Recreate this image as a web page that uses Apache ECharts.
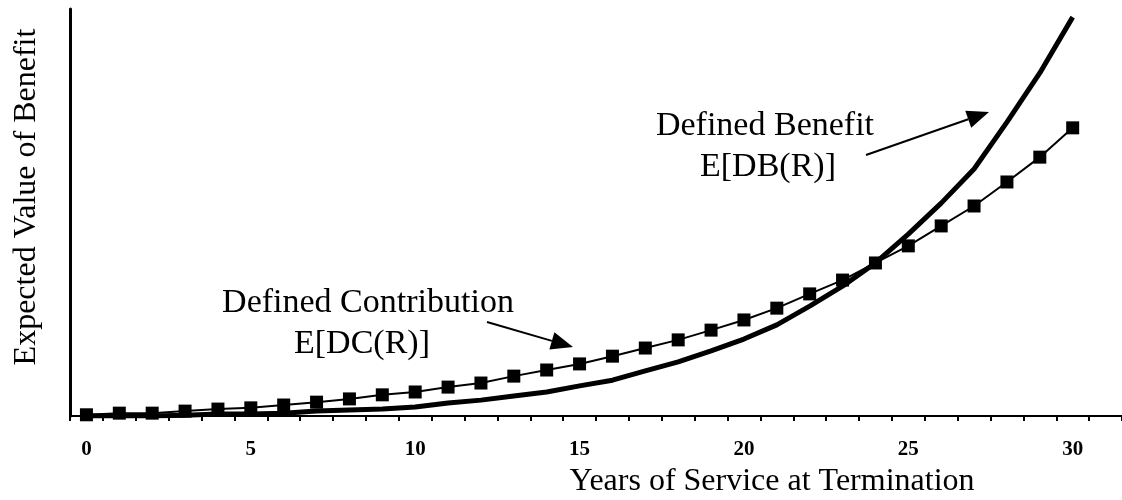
<!DOCTYPE html>
<html>
<head>
<meta charset="utf-8">
<script src="https://cdn.jsdelivr.net/npm/echarts@6/dist/echarts.min.js"></script>
<style>
html,body{margin:0;padding:0;background:#fff;}
#c{width:1122px;height:500px;}
</style>
</head>
<body>
<div id="c"></div>
<script>
// Years of service (category axis; last empty slot extends the axis to the edge)
var years = ['0','1','2','3','4','5','6','7','8','9','10','11','12','13','14','15','16','17','18','19','20','21','22','23','24','25','26','27','28','29','30','31'];
// Expected value of benefit (arbitrary units)
var dcValues = [0.3,0.7,0.7,1.2,1.7,2.0,2.7,3.4,4.2,5.2,5.9,7.1,8.1,9.8,11.3,12.8,14.7,16.7,18.7,21.1,23.6,26.5,30.0,33.4,37.6,41.8,46.7,51.6,57.5,63.6,70.8];
var dbValues = [0,0,0,0.2,0.5,0.5,0.7,1.2,1.5,1.7,2.2,3.2,3.9,4.9,5.9,7.4,8.8,11.1,13.3,16.0,18.9,22.4,27.0,31.9,37.6,44.7,52.3,60.7,72.2,84.3,98.0];
var xTitle = 'Years of Service at Termination';
var yTitle = 'Expected Value of Benefit';
var dbLabel = ['Defined Benefit', 'E[DB(R)]'];
var dcLabel = ['Defined Contribution', 'E[DC(R)]'];

var FONT = '"Liberation Serif","Times New Roman",serif';

function arrow(tail, tip, headLen, headHalf) {
  var dx = tip[0]-tail[0], dy = tip[1]-tail[1];
  var L = Math.sqrt(dx*dx+dy*dy);
  var ux = dx/L, uy = dy/L, nx = -uy, ny = ux;
  var bx = tip[0]-headLen*ux, by = tip[1]-headLen*uy;
  return [
    {type:'line', shape:{x1:tail[0],y1:tail[1],x2:bx,y2:by}, style:{stroke:'#000',lineWidth:2}},
    {type:'polygon', shape:{points:[[tip[0],tip[1]],[bx+headHalf*nx,by+headHalf*ny],[bx-headHalf*nx,by-headHalf*ny]]}, style:{fill:'#000'}}
  ];
}
function txt(s, x, y, size, rot) {
  return {type:'text', x:x, y:y, rotation:rot||0,
    style:{text:s, font:'normal '+size+'px '+FONT, fill:'#000', textAlign:'center', textVerticalAlign:'middle'}};
}

var graphics = [
  txt(dbLabel[0], 765, 126, 34),
  txt(dbLabel[1], 768, 167, 34),
  txt(dcLabel[0], 368, 303, 34),
  txt(dcLabel[1], 362, 344, 34),
  txt(xTitle, 772, 482, 32),
  txt(yTitle, 27, 197, 32, Math.PI/2)
].concat(arrow([866,155],[989,112],22,9)).concat(arrow([487,322],[573,347],22,9));

var chart = echarts.init(document.getElementById('c'), null, {renderer:'canvas'});
chart.setOption({
  animation:false,
  backgroundColor:'#fff',
  grid:{left:70, right:0, top:9, bottom:84},
  xAxis:{
    type:'category', data:years, boundaryGap:true,
    axisLine:{lineStyle:{color:'#000',width:2}},
    axisTick:{show:true, interval:0, length:5, lineStyle:{color:'#000',width:2}},
    axisLabel:{interval:4, margin:23, color:'#000', fontFamily:FONT, fontWeight:'bold', fontSize:21},
    splitLine:{show:false}
  },
  yAxis:{
    type:'value', min:0, max:100,
    axisLine:{show:true, lineStyle:{color:'#000',width:3}},
    axisTick:{show:false}, axisLabel:{show:false}, splitLine:{show:false}
  },
  series:[
    {type:'line', data:dbValues, showSymbol:false, symbol:'none',
     lineStyle:{color:'#000', width:5}, z:2},
    {type:'line', data:dcValues, symbol:'rect', symbolSize:13,
     itemStyle:{color:'#000'}, lineStyle:{color:'#000', width:2}, z:3}
  ],
  graphic:graphics
});
</script>
</body>
</html>
